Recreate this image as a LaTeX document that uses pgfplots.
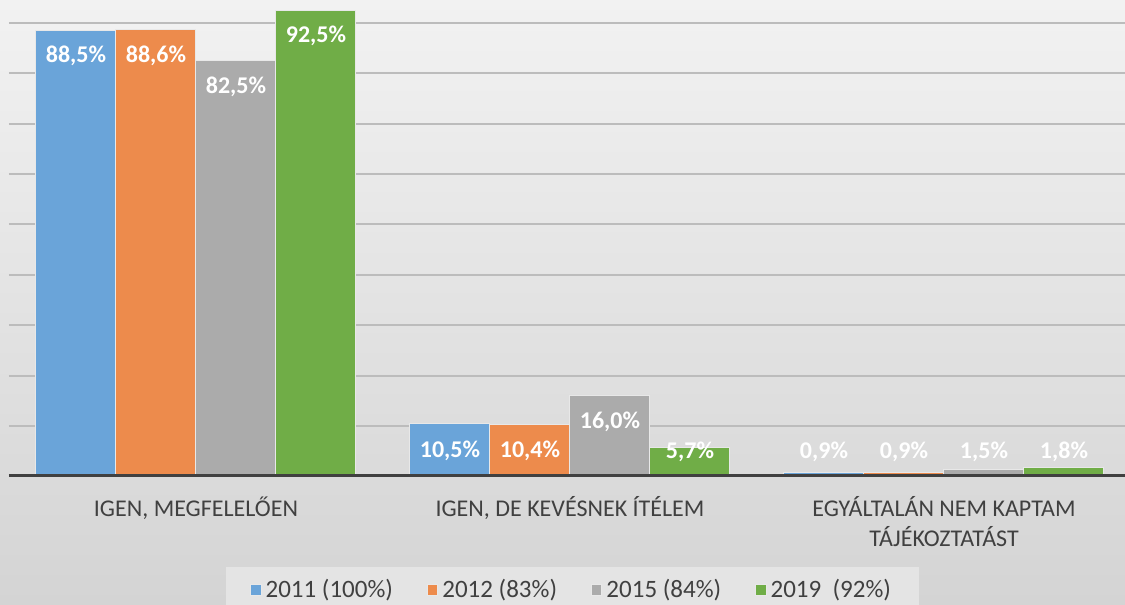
\documentclass[border=0pt]{standalone}
\usepackage{pgfplots}
\pgfplotsset{compat=1.18}
\usepackage{pgfplotstable}
\usepackage{fontspec}
\setmainfont{Carlito}

\definecolor{c11}{RGB}{106,164,217}
\definecolor{c12}{RGB}{237,139,76}
\definecolor{c15}{RGB}{171,171,171}
\definecolor{c19}{RGB}{112,173,71}
\definecolor{bgtop}{RGB}{242,242,242}
\definecolor{bgbot}{RGB}{212,212,212}
\definecolor{legbg}{RGB}{228,228,228}
\definecolor{gridc}{RGB}{188,188,188}
\definecolor{axisc}{RGB}{64,64,64}
\definecolor{labc}{RGB}{64,64,64}
\definecolor{edgec}{RGB}{232,232,232}

% x = category index, y = share in %, off = label shift (pt) from bar top
\pgfplotstableread{
x y off
0 88.5 -13
1 10.5 -13.5
2 0.9 10.3
}\tblA
\pgfplotstableread{
x y off
0 88.6 -13
1 10.4 -13.5
2 0.9 10.3
}\tblB
\pgfplotstableread{
x y off
0 82.5 -13
1 16.0 -13
2 1.5 8.8
}\tblC
\pgfplotstableread{
x y off
0 92.5 -13
1 5.7 -2.2
2 1.8 8
}\tblD

\begin{document}
\begin{tikzpicture}[x=1pt,y=1pt]
\shade[top color=bgtop, bottom color=bgbot] (0,0) rectangle (562.5,302.5);
\begin{axis}[
    at={(4.5pt,64.15pt)}, anchor=south west,
    scale only axis, width=558pt, height=238.35pt,
    xmin=-0.5, xmax=2.484, ymin=0, ymax=94.5,
    enlargelimits=false,
    ybar=0pt, bar width=40pt,
    axis line style={draw=none},
    major tick length=0pt,
    ytick={10,20,...,90}, yticklabels={},
    ymajorgrids, grid style={draw=gridc, line width=1pt},
    xtick={0,1,2},
    xticklabels={{IGEN, MEGFELELŐEN},{IGEN, DE KEVÉSNEK ÍTÉLEM},{EGYÁLTALÁN NEM KAPTAM\\TÁJÉKOZTATÁST}},
    xticklabel style={align=center, text=labc, font=\fontsize{12}{15}\selectfont, yshift=-6.5pt},
    every axis plot/.append style={draw=edgec, line width=0.5pt},
    /pgf/number format/assume math mode=true,
    nodes near coords={\pgfmathprintnumber[fixed,fixed zerofill,precision=1,use comma,assume math mode=true]{\pgfplotspointmeta}\%},
    visualization depends on={\thisrow{off} \as \lbloff},
    every node near coord/.append style={anchor=center, yshift=\lbloff pt, text=white,
        font=\bfseries\fontsize{12}{14}\selectfont},
    legend columns=4,
    legend image code/.code={\fill[#1] (0pt,-2.6pt) rectangle (5.2pt,2.6pt);},
    legend style={at={(0.505,-0.1894)}, anchor=north, draw=none, fill=legbg,
        font=\fontsize{12.5}{14}\selectfont, text=labc, inner xsep=12pt, inner ysep=4pt,
        /tikz/every even column/.append style={column sep=15pt}},
]
\addplot[fill=c11] table[x=x, y=y] {\tblA};
\addplot[fill=c12] table[x=x, y=y] {\tblB};
\addplot[fill=c15] table[x=x, y=y] {\tblC};
\addplot[fill=c19] table[x=x, y=y] {\tblD};
\legend{2011 (100\%), 2012 (83\%), 2015 (84\%), 2019\ \ (92\%)}
\draw[axisc, line width=2.2pt] (rel axis cs:0,0) -- (rel axis cs:1,0);
\end{axis}
\pgfresetboundingbox
\path (0,0) rectangle (562.5,302.5);
\end{tikzpicture}
\end{document}
